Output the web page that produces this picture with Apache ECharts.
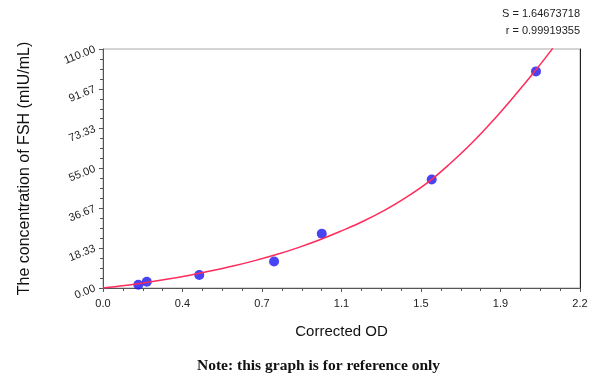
<!DOCTYPE html>
<html>
<head>
<meta charset="utf-8">
<script src="https://cdn.jsdelivr.net/npm/echarts@6/dist/echarts.min.js"></script>
<style>html,body{margin:0;padding:0;background:#fff}#c{width:600px;height:384px}</style>
</head>
<body>
<div id="c"></div>
<script>
// Measured standards (Corrected OD, concentration)
const pointOD = [0.163, 0.202, 0.444, 0.789, 1.009, 1.516, 1.997];
const pointConc = [1.5, 2.9, 6.0, 12.2, 25.0, 49.9, 99.7];
// Fitted curve
const curveOD = [0, 0.1, 0.2, 0.3, 0.4, 0.5, 0.6, 0.7, 0.8, 0.9, 1.0, 1.1, 1.2, 1.3, 1.4, 1.5, 1.6, 1.7, 1.8, 1.9, 2.0, 2.074];
const curveConc = [0, 1.1, 2.5, 4.1, 5.9, 7.9, 10.1, 12.6, 15.4, 18.6, 22.2, 26.3, 30.7, 35.8, 41.8, 48.7, 57.2, 66.6, 77.2, 88.7, 100.8, 110.3];
const xTickLabels = ['0.0', '0.4', '0.7', '1.1', '1.5', '1.9', '2.2'];
const yTickLabels = ['0.00', '18.33', '36.67', '55.00', '73.33', '91.67', '110.00'];
const statS = 'S = 1.64673718';
const statR = 'r = 0.99919355';

const xMax = 2.2, yMax = 110;
const xStep = xMax / 6, yStep = yMax / 6;

const chart = echarts.init(document.getElementById('c'), null, {renderer: 'canvas'});
chart.setOption({
  animation: false,
  backgroundColor: '#fff',
  grid: {left: 103, right: 20, top: 49, bottom: 96, show: true, borderColor: '#aaa', borderWidth: 1},
  xAxis: {
    type: 'value', min: 0, max: xMax, interval: xStep,
    name: 'Corrected OD', nameLocation: 'middle', nameGap: 36,
    nameTextStyle: {fontFamily: 'Liberation Sans, Arial', fontSize: 15, color: '#111'},
    axisLine: {show: true, lineStyle: {color: '#555', width: 1}},
    axisTick: {show: true, inside: false, length: 4, lineStyle: {color: '#555'}},
    minorTick: {show: true, splitNumber: 4, length: 3, lineStyle: {color: '#555'}},
    splitLine: {show: false},
    axisLabel: {
      fontFamily: 'Liberation Sans, Arial', fontSize: 11, color: '#222', margin: 10,
      formatter: v => xTickLabels[Math.round(v / xStep)]
    }
  },
  yAxis: [{
    type: 'value', min: 0, max: yMax, interval: yStep,
    name: 'The concentration of FSH (mIU/mL)', nameLocation: 'middle', nameGap: 70,
    nameTextStyle: {fontFamily: 'Liberation Sans, Arial', fontSize: 16, color: '#111'},
    axisLine: {show: true, lineStyle: {color: '#555', width: 1}},
    axisTick: {show: true, length: 4, lineStyle: {color: '#555'}},
    minorTick: {show: true, splitNumber: 4, length: 3, lineStyle: {color: '#555'}},
    splitLine: {show: false},
    axisLabel: {
      fontFamily: 'Liberation Sans, Arial', fontSize: 11, color: '#222', margin: 8, rotate: 22,
      formatter: v => yTickLabels[Math.round(v / yStep)]
    }
  }, {
    type: 'value', min: 0, max: yMax, position: 'right',
    axisLine: {show: true, lineStyle: {color: '#222', width: 1}},
    axisTick: {show: false}, axisLabel: {show: false}, splitLine: {show: false}
  }],
  series: [{
    type: 'scatter',
    data: pointOD.map((x, i) => [x, pointConc[i]]),
    symbolSize: 10,
    itemStyle: {color: '#1a14f0'},
    z: 2
  }, {
    type: 'line',
    data: curveOD.map((x, i) => [x, curveConc[i]]),
    smooth: 0.4,
    showSymbol: false,
    clip: false,
    lineStyle: {color: '#ff2a5a', width: 1.5},
    z: 3
  }],
  graphic: [
    {type: 'text', right: 20, top: 8, style: {text: statS, font: '11px "Liberation Sans", Arial', fill: '#222', textAlign: 'right'}},
    {type: 'text', right: 20, top: 25, style: {text: statR, font: '11px "Liberation Sans", Arial', fill: '#222', textAlign: 'right'}},
    {type: 'text', left: 197, top: 358, style: {text: 'Note: this graph is for reference only', font: 'bold 15.5px "Liberation Serif", "Times New Roman"', fill: '#111'}}
  ]
});
</script>
</body>
</html>
